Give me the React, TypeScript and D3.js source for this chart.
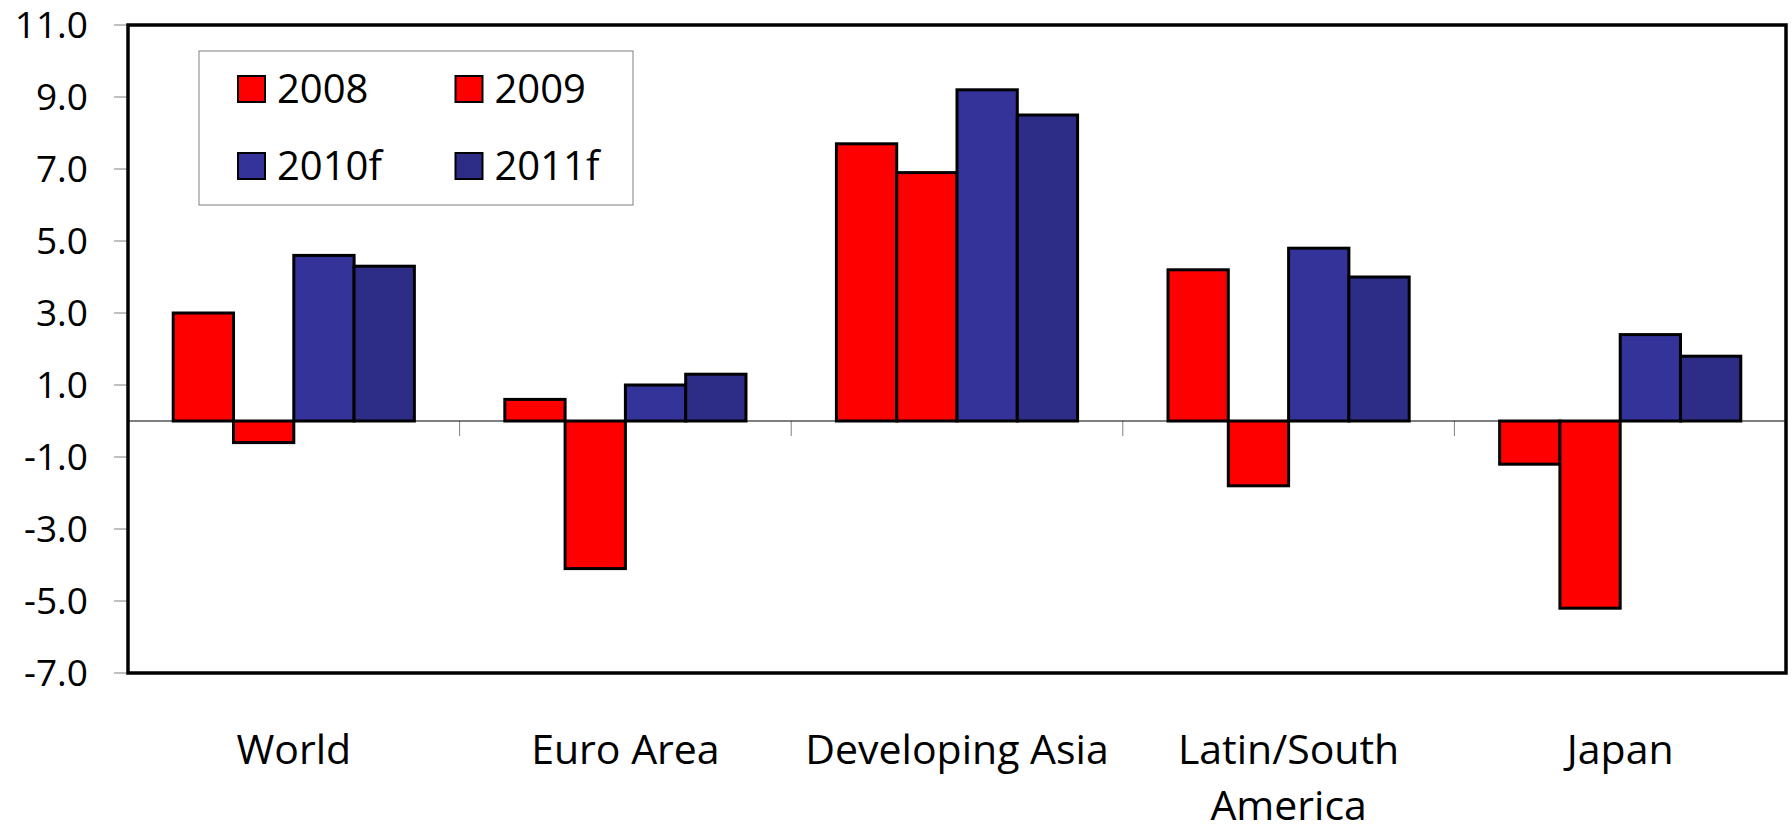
import * as d3 from "d3";
import * as React from "react";

const categories = ["World", "Euro Area", "Developing Asia", "Latin/South America", "Japan"];
const categoryLines = [["World"], ["Euro Area"], ["Developing Asia"], ["Latin/South", "America"], ["Japan"]];
const series = ["2008", "2009", "2010f", "2011f"];
const colors = ["#ff0000", "#ff0000", "#333399", "#2d2d88"];

const values2008 = [3.0, 0.6, 7.7, 4.2, -1.2];
const values2009 = [-0.6, -4.1, 6.9, -1.8, -5.2];
const values2010 = [4.6, 1.0, 9.2, 4.8, 2.4];
const values2011 = [4.3, 1.3, 8.5, 4.0, 1.8];
const yTicks = [-7, -5, -3, -1, 1, 3, 5, 7, 9, 11];

const seriesValues = [values2008, values2009, values2010, values2011];

const W = 1792;
const H = 826;
const margin = { top: 25, right: 6, bottom: 153, left: 128 };
const font = "'Open Sans', sans-serif";

const App: React.FC = () => {
  const x0 = d3
    .scaleBand<string>()
    .domain(categories)
    .range([margin.left, W - margin.right])
    .padding(0);
  const x1 = d3
    .scaleBand<string>()
    .domain(series)
    .range([0, x0.bandwidth()])
    .paddingInner(0)
    .paddingOuter(0.75);
  const y = d3.scaleLinear().domain([-7, 11]).range([H - margin.bottom, margin.top]);

  const y0 = y(0);

  return (
    <svg
      width={W}
      height={H}
      style={{ position: "absolute", left: 0, top: 0, background: "#fff" }}
    >
      {/* y ticks */}
      {yTicks.map((t) => (
        <g key={t}>
          <line x1={margin.left - 14} x2={margin.left} y1={y(t)} y2={y(t)} stroke="#808080" strokeWidth={1} />
          <text
            x={88}
            y={y(t) + 13}
            textAnchor="end"
            fontFamily={font}
            fontSize={37}
            fill="#000"
          >
            {t.toFixed(1)}
          </text>
        </g>
      ))}

      {/* category separators */}
      {categories.slice(1).map((c) => (
        <line
          key={c}
          x1={x0(c)}
          x2={x0(c)}
          y1={y0}
          y2={y0 + 15}
          stroke="#808080"
          strokeWidth={1}
        />
      ))}

      {/* bars */}
      {categories.map((c, ci) =>
        series.map((s, si) => {
          const v = seriesValues[si][ci];
          const bx = (x0(c) as number) + (x1(s) as number);
          return (
            <rect
              key={c + s}
              x={bx}
              y={Math.min(y(v), y0)}
              width={x1.bandwidth()}
              height={Math.abs(y(v) - y0)}
              fill={colors[si]}
              stroke="#000"
              strokeWidth={3}
            />
          );
        })
      )}

      {/* zero line */}
      <line x1={margin.left} x2={W - margin.right} y1={y0} y2={y0} stroke="#000" strokeWidth={1.2} />

      {/* frame */}
      <rect
        x={margin.left}
        y={margin.top}
        width={W - margin.left - margin.right}
        height={H - margin.top - margin.bottom}
        fill="none"
        stroke="#000"
        strokeWidth={3.5}
      />

      {/* category labels */}
      {categories.map((c, ci) => (
        <text
          key={c}
          x={(x0(c) as number) + x0.bandwidth() / 2}
          y={764}
          textAnchor="middle"
          fontFamily={font}
          fontSize={41}
          fill="#000"
        >
          {categoryLines[ci].map((line, li) => (
            <tspan key={li} x={(x0(c) as number) + x0.bandwidth() / 2} dy={li === 0 ? 0 : 56}>
              {line}
            </tspan>
          ))}
        </text>
      ))}

      {/* legend */}
      <rect x={199} y={51} width={434} height={154} fill="#fff" stroke="#808080" strokeWidth={1} />
      {series.map((s, si) => {
        const col = si % 2;
        const row = Math.floor(si / 2);
        const lx = 238 + col * 217.5;
        const ly = 76 + row * 77;
        return (
          <g key={s}>
            <rect x={lx} y={ly} width={27} height={26} fill={colors[si]} stroke="#000" strokeWidth={2} />
            <text x={lx + 39} y={ly + 27} fontFamily={font} fontSize={40} fill="#000">
              {s}
            </text>
          </g>
        );
      })}
    </svg>
  );
};

export default App;
